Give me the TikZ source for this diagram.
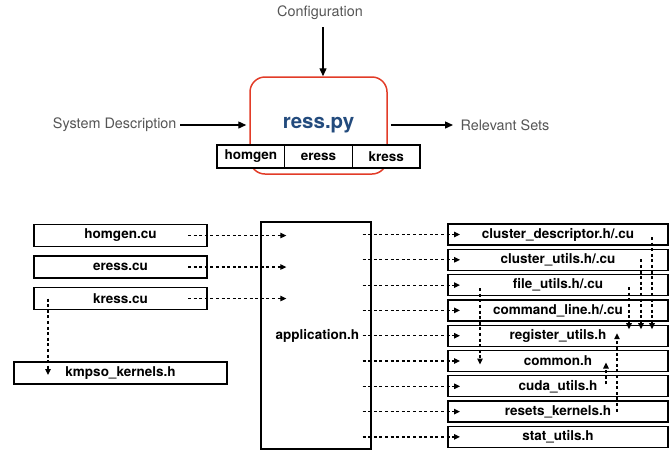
\documentclass[tikz,border=0pt]{standalone}
\usepackage{fontspec}
\setmainfont{TeX Gyre Heros}
\usetikzlibrary{arrows.meta,positioning,calc}
\definecolor{PyClr}{RGB}{35,75,125}
\definecolor{BoxClr}{RGB}{226,60,40}
\definecolor{LblClr}{RGB}{85,85,85}

\tikzset{
  lbl/.style={text=LblClr,font=\fontsize{14.4}{16}\selectfont},
  file/.style={draw,line width=1.3pt,fill=white,outer sep=0pt,inner sep=0pt,
    minimum height=21pt,font=\fontsize{13.5}{16}\selectfont\bfseries},
  flow/.style={line width=1.4pt,-{Triangle[length=8pt,width=7pt]}},
  dep/.style={line width=1.2pt,dash pattern=on 3pt off 2.6pt,-{Triangle[length=6pt,width=5.5pt]}}
}

\begin{document}
\begin{tikzpicture}[x=1pt,y=-1pt]
\useasboundingbox (0,0) rectangle (671,451);

% the python front end
\node[draw=BoxClr,line width=1.5pt,rounded corners=15pt,minimum width=137pt,minimum height=97pt,
  text=PyClr,font=\fontsize{20.5}{24}\selectfont\bfseries] (ress) at (318.5,125.5) {ress.py};
\node[file,minimum width=67.7pt,minimum height=23pt] (homgen) at (250.85,156.5) {homgen};
\node[file,minimum width=67.7pt,minimum height=23pt,right=0pt of homgen] (eress) {eress};
\node[file,minimum width=67.7pt,minimum height=23pt,right=0pt of eress] (kress) {kress};

\node[lbl] (conf) at (320,13) {Configuration};
\node[lbl,anchor=east] (sys) at (180,125) {System Description};
\node[lbl,anchor=west] (rel) at (457,125) {Relevant Sets};

\draw[flow] ([xshift=3pt,yshift=-4pt]conf.south) -- ([xshift=4.5pt]ress.north);
\draw[flow] (sys.east) -- ([xshift=-3pt]ress.west |- sys.east);
\draw[flow] ([xshift=3pt]ress.east |- rel.west) -- ([xshift=-4pt]rel.west);

% cuda sources
\node[file,minimum width=173pt,minimum height=22pt] (homgencu) at (120.5,235.5) {homgen.cu};
\node[file,minimum width=173pt,minimum height=22pt,below=9.5pt of homgencu] (eresscu) {eress.cu};
\node[file,minimum width=173pt,minimum height=22pt,below=9.5pt of eresscu] (kresscu) {kress.cu};
\node[file,minimum width=213pt,minimum height=22pt] (kmpso) at (120.5,373) {kmpso\_kernels.h};

\node[draw,line width=1.3pt,minimum height=227pt,text width=86pt,inner xsep=12pt,align=right,
  font=\fontsize{13.5}{16}\selectfont\bfseries] (app) at (316,335.5) {application.h};

% headers
\node[file,minimum width=220pt] (cd) at (558,234.5) {cluster\_descriptor.h/.cu};
\foreach \n/\t [remember=\n as \p (initially cd)] in {cu/{cluster\_utils.h/.cu},fu/{file\_utils.h/.cu},
  cl/{command\_line.h/.cu},ru/register\_utils.h,cm/common.h,cuda/cuda\_utils.h,
  rk/resets\_kernels.h,su/stat\_utils.h}
  \node[file,minimum width=220pt,below=4.3pt of \p] (\n) {\t};

\foreach \n in {homgencu,eresscu,kresscu}
  \draw[dep] ([xshift=-19pt]\n.east) -- ([xshift=26pt]app.west |- \n.east);
\draw[dep] ($(kresscu.west)+(14,0)$) -- ($(kresscu.west |- kmpso.west)+(14,2)$);

\foreach \n in {cd,cu,fu,cl,ru,cm,cuda,rk,su}
  \draw[dep] ([xshift=-9pt]app.east |- \n.west) -- ([xshift=12pt]\n.west);

% includes between the headers
\draw[dep] ($(fu.west)+(32,3)$) -- ($(cm.west)+(32,3.5)$);
\foreach \a/\dx/\dy in {cd/16/2.5,cu/27/-0.5,fu/39/2}
  \draw[dep] ($(\a.east)+(-\dx,\dy)$) -- ($(ru.east)+(-\dx,-6.5)$);
\draw[dep] ($(rk.east)+(-51,0)$) -- ($(ru.east)+(-51,-2.5)$);
\draw[dep] ($(cuda.east)+(-62,-2)$) -- ($(cm.east)+(-62,1.5)$);

\end{tikzpicture}
\end{document}
